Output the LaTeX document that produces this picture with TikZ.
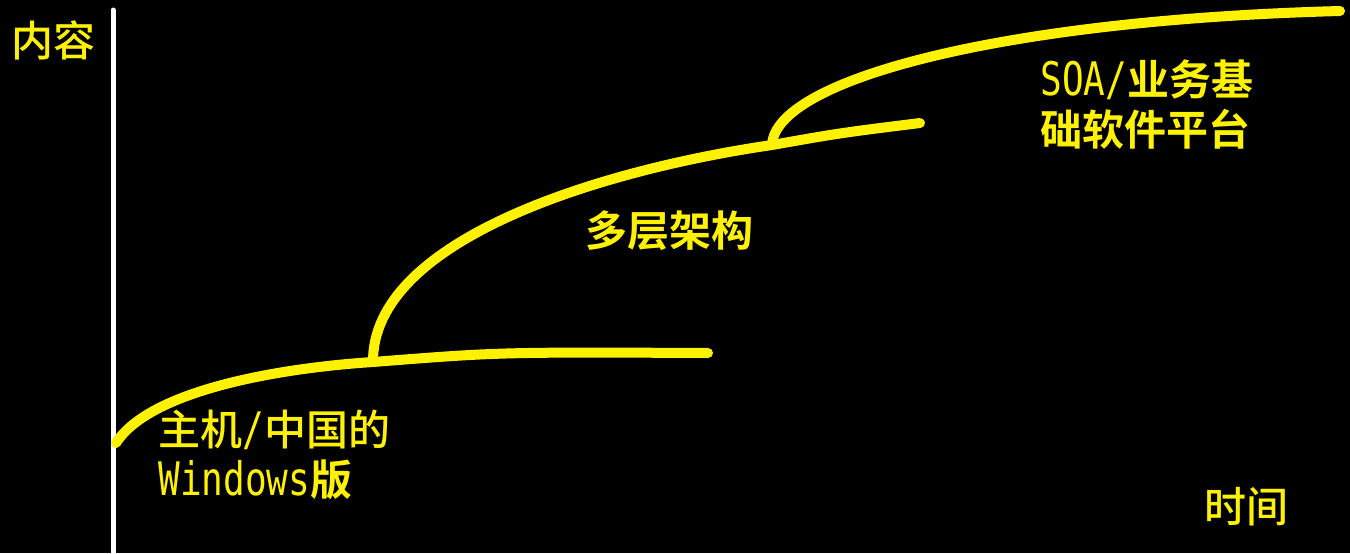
\documentclass[tikz,border=0pt]{standalone}
\usepackage{fontspec}
\setmainfont{Noto Sans CJK SC}[UprightFont = * Medium, BoldFont = * Bold]
\newfontfamily\latinMono{DejaVu Sans Mono}[Scale=1.1,FakeStretch=0.78]
\usetikzlibrary{positioning}
\usetikzlibrary{calc}

\begin{document}
\begin{tikzpicture}[x = 0.5pt, y = -0.5pt, font = \fontsize{21}{25}\selectfont]
\tikzset{
  axis/.style = {draw = white, line width = 2.5pt, line cap = round},
  trend/.style = {draw = yellow, line width = 5pt, line cap = round},
  label/.style = {text = yellow, inner sep = 0pt, anchor = west, align = left},
}
\fill [black] (0,0) rectangle (1350,553);
\useasboundingbox (0,0) rectangle (1350,553);
% axis
\coordinate (axisTop) at (113,10);
\coordinate (axisBottom) at (113,570);
\draw [axis] (axisTop) -- (axisBottom);
% stages
\coordinate (mainStart) at (116,443);
\coordinate (tierStart) at (373,362);
\coordinate (mainEnd) at (708,353);
\coordinate (soaStart) at (772,145);
\coordinate (tierEnd) at (920,123);
\coordinate (soaEnd) at (1340,11);
\draw [trend] (mainStart) .. controls (150,390) and (280,368) .. (tierStart)
  .. controls (500,352) .. (mainEnd);
\draw [trend] (tierStart) .. controls (372,240) and (600,170) .. (soaStart)
  .. controls (840,133) .. (tierEnd);
\draw [trend] (soaStart) .. controls (775,80) and (1000,20) .. (soaEnd);
% labels
\node [label, anchor = center] (content) at (53,40) {内容};
\node [label, anchor = center] (time) at (1246,507) {时间};
\node [label] (mainframe) at (158,455) {主机{\latinMono /}中国的\\{\latinMono Windows}\textbf{版}};
\node [label, font = \fontsize{21}{25}\selectfont\bfseries] (multiTier) at (585,231) {多层架构};
\node [label, font = \fontsize{21}{25}\selectfont\bfseries] (soa) at (1040,105) {{\mdseries\latinMono SOA/}业务基\\础软件平台};
\end{tikzpicture}
\end{document}
